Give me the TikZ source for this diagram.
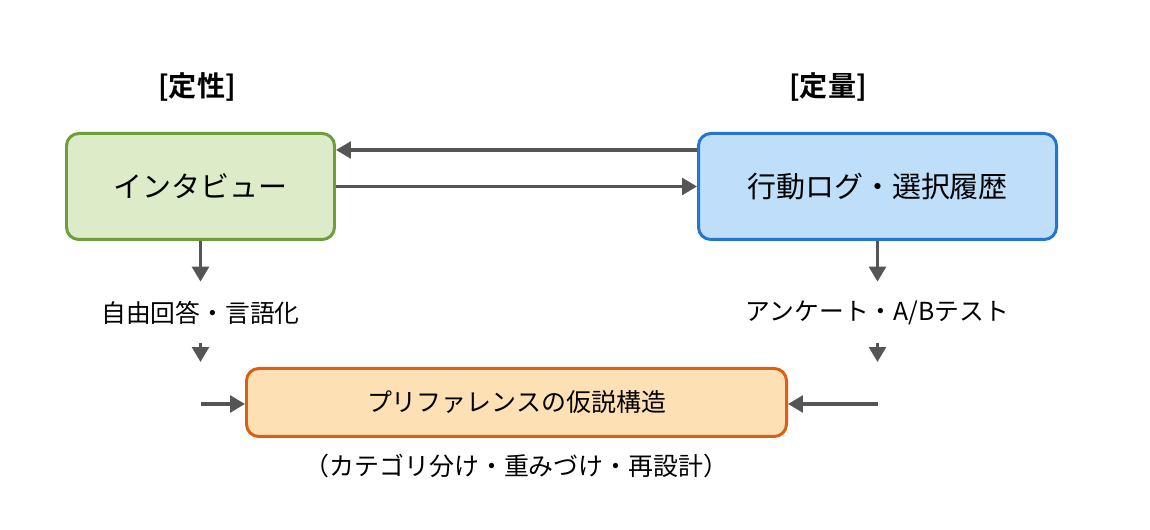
\documentclass[tikz,border=0pt]{standalone}
\usepackage{fontspec}
\setmainfont{Noto Sans CJK JP}[BoldFont={Noto Sans CJK JP Bold}]
\usetikzlibrary{arrows.meta}
\definecolor{arrowgray}{RGB}{85,85,85}
\definecolor{greenfill}{RGB}{221,236,200}
\definecolor{greenline}{RGB}{110,158,60}
\definecolor{bluefill}{RGB}{190,222,250}
\definecolor{blueline}{RGB}{36,118,204}
\definecolor{orangefill}{RGB}{253,224,180}
\definecolor{orangeline}{RGB}{218,96,22}

\begin{document}
\begin{tikzpicture}[
		box/.style = {draw, rounded corners=7pt, line width=1.7pt, inner sep=0pt},
		arr/.style = {-{Triangle[length=8.5pt,width=9.5pt]}, draw=arrowgray, line width=1.9pt},
		lab/.style = {font=\fontsize{14.1}{16}\selectfont, inner sep=0pt, minimum height=1.22cm},
		ttl/.style = {font=\fontsize{16}{18}\selectfont\bfseries}
	]
		\useasboundingbox (0,0) rectangle (23,10.6);
		\node [ttl] (qual) at (3.94,8.86) {[定性]};
		\node [ttl] (quant) at (16.56,8.86) {[定量]};
		\node [box, draw=greenline, fill=greenfill, minimum width=5.36cm, minimum height=2.12cm, font=\fontsize{16.5}{18}\selectfont] (interview) at (4.01,6.87) {インタビュー};
		\node [box, draw=blueline, fill=bluefill, minimum width=7.16cm, minimum height=2.12cm, font=\fontsize{16.5}{18}\selectfont] (log) at (17.55,6.87) {行動ログ・選択履歴};
		\node [box, draw=orangeline, fill=orangefill, minimum width=10.8cm, minimum height=1.36cm, font=\fontsize{14.2}{16}\selectfont] (pref) at (10.33,2.55) {プリファレンスの仮説構造};
		\node [lab] (free) at (4.01,4.35) {自由回答・言語化};
		\node [lab] (survey) at (17.55,4.35) {アンケート・A/Bテスト};
		\node [font=\fontsize{14.2}{16}\selectfont] (note) at (10.33,1.28) {（カテゴリ分け・重みづけ・再設計）};
		\coordinate (freeend) at (4.01,3.36);
		\coordinate (freein) at (4.01,2.52);
		\coordinate (surveyend) at (17.55,3.36);
		\coordinate (surveyin) at (17.55,2.52);
		\draw [arr] ([yshift=0.73cm]log.west) -- ([yshift=0.73cm]interview.east);
		\draw [arr] (interview.east) -- (log.west);
		\draw [arr] (interview.south) -- (free.north);
		\draw [arr] (log.south) -- (survey.north);
		\draw [arr] (free.south) -- (freeend);
		\draw [arr] (survey.south) -- (surveyend);
		\draw [arr] (freein) -- (freein -| pref.west);
		\draw [arr] (surveyin) -- (surveyin -| pref.east);
	\end{tikzpicture}
\end{document}
